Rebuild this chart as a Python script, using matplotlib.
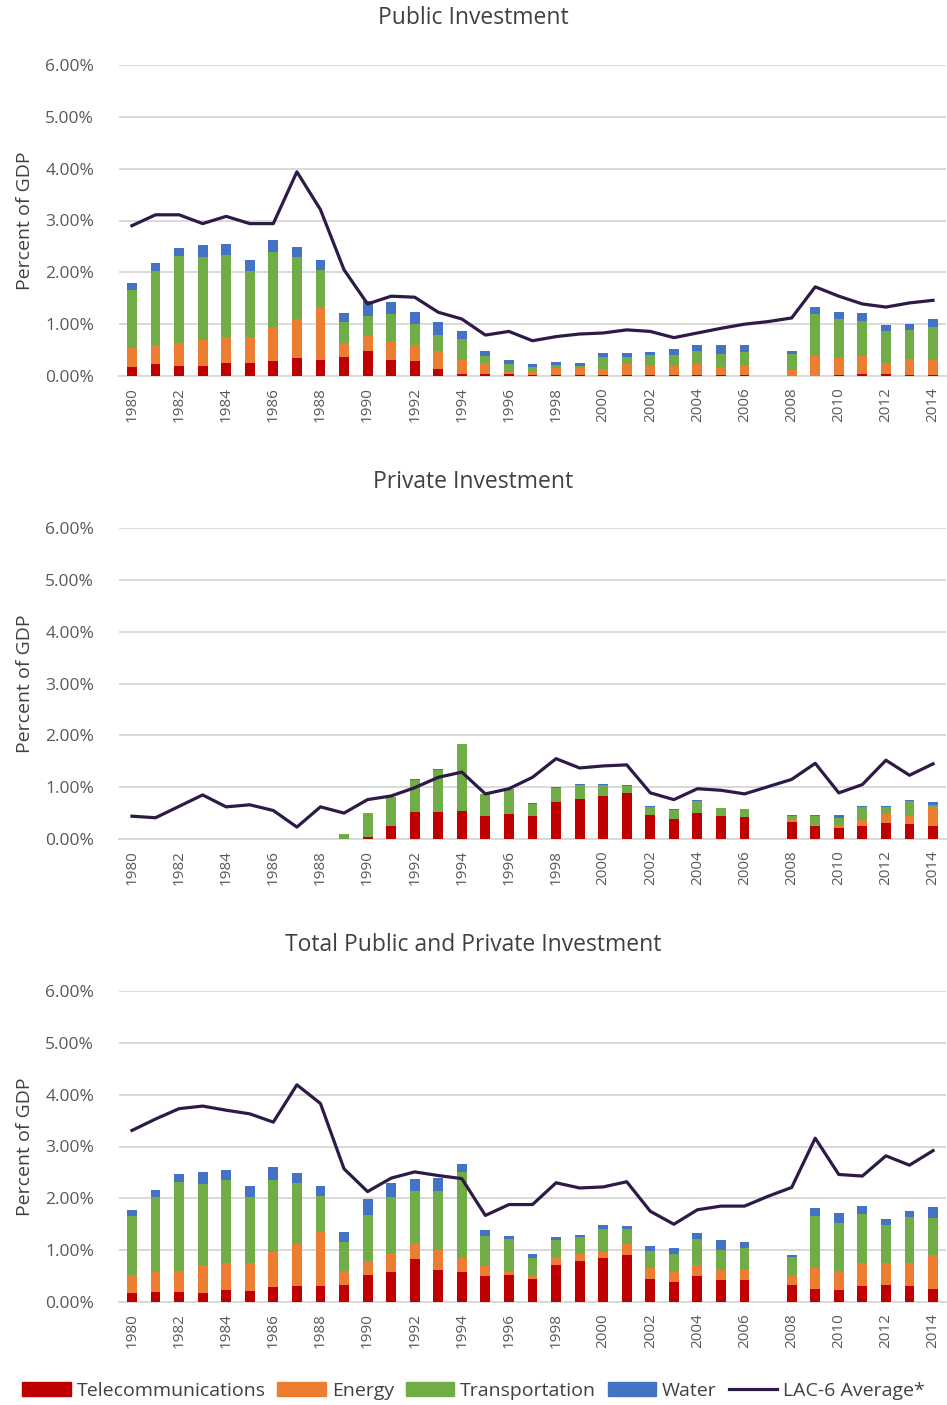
import numpy as np
import matplotlib
matplotlib.use('Agg')
import matplotlib.pyplot as plt
from matplotlib.patches import Patch
from matplotlib.lines import Line2D

nan = np.nan
years = list(range(1980, 2015))

# public investment, percent of GDP
pub_tel = [.17,.23,.19,.20,.26,.25,.29,.34,.31,.36,.48,.31,.29,.13,.04,.03,.04,.01,.01,.01,.01,.01,.01,.01,.01,.01,.01,nan,.00,.00,.01,.03,.03,.01,.01]
pub_en  = [.37,.36,.45,.50,.49,.50,.66,.76,1.02,.27,.30,.35,.30,.35,.27,.22,.04,.09,.14,.14,.13,.22,.19,.18,.22,.16,.18,nan,.12,.39,.33,.36,.23,.31,.29]
pub_tr  = [1.11,1.43,1.67,1.59,1.59,1.27,1.44,1.19,.71,.42,.37,.53,.42,.31,.40,.14,.16,.07,.06,.04,.22,.13,.21,.22,.26,.26,.28,nan,.31,.81,.76,.68,.60,.57,.64]
pub_wa  = [.14,.16,.15,.23,.21,.21,.24,.19,.19,.16,.30,.24,.22,.26,.16,.09,.07,.06,.06,.06,.08,.08,.05,.11,.10,.16,.12,nan,.05,.14,.14,.14,.13,.12,.16]
pub_avg = [2.90,3.11,3.11,2.94,3.08,2.94,2.94,3.94,3.21,2.05,1.39,1.54,1.52,1.23,1.10,0.79,0.86,0.68,0.76,0.81,0.83,0.89,0.86,0.74,0.83,0.92,1.00,1.05,1.12,1.72,1.54,1.39,1.33,1.41,1.46]

# private investment
prv_tel = [0,0,0,0,0,0,0,0,0,0,.03,.26,.52,.52,.54,.45,.49,.45,.72,.78,.83,.88,.46,.39,.50,.44,.42,nan,.33,.26,.21,.26,.30,.28,.26]
prv_en  = [0,0,0,0,0,0,0,0,0,0,0,0,0,0,0,0,0,0,0,0,0,0,0,0,0,0,0,nan,.06,.01,.06,.10,.18,.16,.36]
prv_tr  = [0,0,0,0,0,0,0,0,0,.10,.47,.55,.62,.82,1.29,.41,.48,.23,.27,.27,.22,.15,.16,.16,.23,.15,.15,nan,.05,.18,.13,.26,.14,.29,.03]
prv_wa  = [0,0,0,0,0,0,0,0,0,0,0,0,.01,.01,0,0,0,.02,.01,.01,.01,.01,.01,.03,.02,.01,.01,nan,.03,.02,.06,.01,.01,.02,.07]
prv_avg = [.44,.41,.63,.85,.62,.66,.55,.23,.62,.50,.76,.83,.99,1.19,1.29,.87,.97,1.19,1.55,1.37,1.41,1.43,.89,.76,.97,.94,.87,1.01,1.15,1.46,.89,1.05,1.52,1.23,1.45]

# total public and private
tot_tel = [.17,.19,.19,.17,.24,.22,.28,.30,.30,.33,.52,.57,.82,.62,.57,.50,.52,.45,.72,.80,.85,.91,.45,.38,.51,.42,.42,nan,.33,.26,.24,.30,.33,.30,.26]
tot_en  = [.36,.38,.41,.55,.51,.53,.68,.81,1.06,.27,.28,.36,.31,.39,.27,.20,.06,.08,.14,.13,.11,.20,.21,.20,.21,.19,.20,nan,.17,.40,.36,.45,.42,.45,.65]
tot_tr  = [1.12,1.46,1.72,1.56,1.60,1.28,1.40,1.19,.69,.56,.87,1.09,1.02,1.14,1.66,.57,.64,.32,.34,.32,.45,.30,.32,.35,.50,.40,.42,nan,.37,1.00,.92,.95,.74,.89,.71]
tot_wa  = [.12,.14,.14,.22,.20,.20,.24,.18,.18,.20,.31,.28,.22,.25,.17,.11,.05,.07,.05,.05,.07,.05,.11,.12,.11,.18,.11,nan,.04,.15,.20,.16,.12,.12,.22]
tot_avg = [3.31,3.53,3.73,3.78,3.70,3.63,3.47,4.19,3.83,2.57,2.13,2.39,2.51,2.44,2.38,1.67,1.88,1.88,2.30,2.20,2.22,2.32,1.75,1.50,1.78,1.85,1.85,2.04,2.21,3.16,2.46,2.43,2.82,2.64,2.92]

titles = ['Public Investment', 'Private Investment', 'Total Public and Private Investment']
sectors = ['Telecommunications', 'Energy', 'Transportation', 'Water']
colors = ['#C00000', '#ED7D31', '#70AD47', '#4472C4']
line_color = '#2E1A47'
panels = [
    (pub_tel, pub_en, pub_tr, pub_wa, pub_avg),
    (prv_tel, prv_en, prv_tr, prv_wa, prv_avg),
    (tot_tel, tot_en, tot_tr, tot_wa, tot_avg),
]

plt.rcParams['font.family'] = ['Open Sans', 'DejaVu Sans']

fig = plt.figure(figsize=(9.47, 14.05), dpi=100)
left = 119 / 947
width = 827 / 947
bottoms = [1 - 376 / 1405, 1 - 839 / 1405, 1 - 1302 / 1405]
title_y = [18, 482, 945]
height = 311 / 1405

x = np.arange(len(years))
for i in range(3):
    ax = fig.add_axes([left, bottoms[i], width, height])
    tel, en, tr, wa, avg = panels[i]
    base = np.zeros(len(years))
    for vals, c in zip([tel, en, tr, wa], colors):
        v = np.array(vals, dtype=float)
        ax.bar(x, v, 0.42, bottom=base, color=c, zorder=3)
        base = base + np.nan_to_num(v)
    ax.plot(x, avg, color=line_color, lw=2.3, zorder=4)

    ax.set_xlim(-0.55, len(years) - 0.45)
    ax.set_ylim(0, 6)
    ax.set_yticks(range(7))
    ax.set_yticklabels(['%.2f%%' % v for v in range(7)], fontsize=12.5, color='#595959')
    ax.set_xticks(x[::2])
    ax.set_xticklabels([str(y) for y in years[::2]], rotation=90, fontsize=11, color='#595959')
    ax.grid(axis='y', color='#D9D9D9', lw=1.4, zorder=0)
    for s in ['top', 'right', 'left']:
        ax.spines[s].set_visible(False)
    ax.spines['bottom'].set_color('#D9D9D9')
    ax.spines['bottom'].set_linewidth(1.4)
    ax.tick_params(length=0, pad=8)
    ax.tick_params(axis='y', pad=18)
    ax.set_ylabel('Percent of GDP', fontsize=14, color='#404040', labelpad=8)
    fig.text(0.5, 1 - title_y[i] / 1405, titles[i], fontsize=16.5, color='#404040',
             ha='center', va='center')

handles = [Patch(color=c) for c in colors] + [Line2D([], [], color=line_color, lw=2.3)]
fig.legend(handles, sectors + ['LAC-6 Average*'], loc='center', bbox_to_anchor=(0.5, 1 - 1391 / 1405),
           ncol=5, frameon=False, fontsize=14, handlelength=2.5, handleheight=0.75,
           handletextpad=0.3, columnspacing=0.6, labelcolor='#404040')

fig.savefig('out.png', dpi=100)
